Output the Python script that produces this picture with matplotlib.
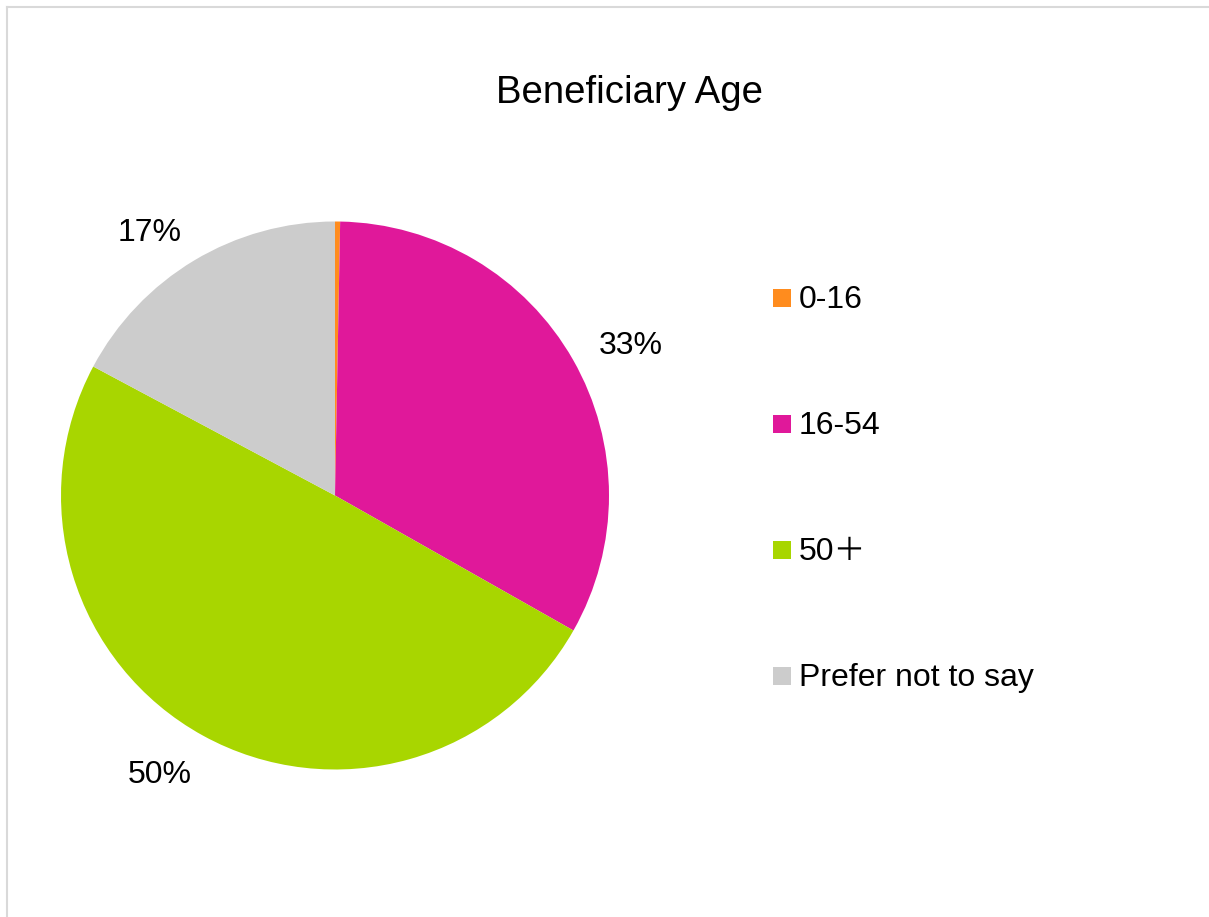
import matplotlib
matplotlib.use("Agg")
import matplotlib.pyplot as plt
import numpy as np
from matplotlib.patches import Rectangle
from matplotlib.lines import Line2D

plt.rcParams['font.family'] = ['Liberation Sans', 'Noto Sans CJK SC', 'DejaVu Sans']

title = "Beneficiary Age"
categories = ["0-16", "16-54", "50\uff0b", "Prefer not to say"]
shares = [0.3, 32.9, 49.6, 17.2]
colors = ["#FF8C1E", "#E0189A", "#A8D600", "#CCCCCC"]

W, H = 1209, 917
fig = plt.figure(figsize=(W / 100, H / 100), dpi=100)

# light frame along the top and left edges
fig.add_artist(Line2D([7 / W, 7 / W], [0, 1 - 7 / H], color="#D9D9D9", lw=1.5,
                      transform=fig.transFigure))
fig.add_artist(Line2D([7 / W, 1], [1 - 7 / H, 1 - 7 / H], color="#D9D9D9", lw=1.5,
                      transform=fig.transFigure))

fig.text(629 / W, 1 - 93 / H, title, ha="center", va="center", fontsize=27.6)

ax = fig.add_axes([61 / W, 1 - 770 / H, 548 / W, 549 / H])
wedges, _, autotexts = ax.pie(
    shares, colors=colors, startangle=90, counterclock=False, radius=1,
    autopct=lambda p: f"{p:.0f}%" if p >= 1 else "", pctdistance=1.14,
    textprops=dict(fontsize=23, color="black"),
    wedgeprops=dict(linewidth=0),
)
# nudge the outside labels away from the pie horizontally
for t in autotexts:
    x, y = t.get_position()
    t.set_position((x + np.sign(x) * 0.09, y - 0.02))
ax.set_xlim(-1, 1)
ax.set_ylim(-1, 1)
ax.set_aspect("equal")
ax.axis("off")

# legend: square swatches with labels stacked down the right side
sw = 18
for i, (cat, col) in enumerate(zip(categories, colors)):
    yc = 298 + i * 126
    fig.add_artist(Rectangle((773 / W, 1 - (yc + sw / 2) / H), sw / W, sw / H,
                             facecolor=col, edgecolor="none",
                             transform=fig.transFigure))
    fig.text(799 / W, 1 - (yc + 2) / H, cat, ha="left", va="center", fontsize=23)

fig.savefig("out.png", dpi=100, facecolor="white")
